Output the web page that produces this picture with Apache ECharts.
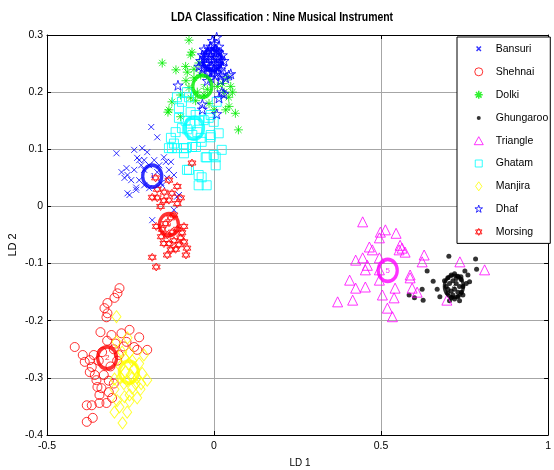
<!DOCTYPE html>
<html>
<head>
<meta charset="utf-8">
<script src="https://cdn.jsdelivr.net/npm/echarts@6/dist/echarts.min.js"></script>
<style>html,body{margin:0;padding:0;background:#fff}#c{width:554px;height:470px}</style>
</head>
<body>
<div id="c"></div>
<script>
const categories = ['Bansuri','Shehnai','Dolki','Ghungaroo','Triangle','Ghatam','Manjira','Dhaf','Morsing'];
const xTicks = [-0.5, 0, 0.5, 1];
const yTicks = [-0.4, -0.3, -0.2, -0.1, 0, 0.1, 0.2, 0.3];

const bansuri = [[-0.188,0.139],[-0.170,0.121],[-0.292,0.093],[-0.215,0.102],[-0.200,0.095],[-0.277,0.060],[-0.262,0.067],[-0.259,0.055],[-0.233,0.029],[-0.253,0.020],[-0.224,0.081],[-0.218,0.072],[-0.230,0.085],[-0.239,0.064],[-0.150,0.086],[-0.144,0.078],[-0.129,0.078],[-0.135,0.064],[-0.120,0.055],[-0.141,0.050],[-0.158,0.041],[-0.194,0.032],[-0.105,0.020],[-0.111,0.017],[-0.185,-0.024],[-0.120,-0.006],[-0.209,0.081],[-0.194,0.072],[-0.209,0.064],[-0.179,0.081],[-0.164,0.072],[-0.224,0.046],[-0.209,0.037],[-0.170,0.060],[-0.155,0.037],[-0.248,0.046],[-0.268,0.050],[-0.239,0.099],[-0.259,0.023],[-0.233,0.033]];
const shehnai = [[-0.283,-0.143],[-0.289,-0.152],[-0.298,-0.160],[-0.319,-0.169],[-0.328,-0.178],[-0.319,-0.187],[-0.322,-0.194],[-0.340,-0.220],[-0.417,-0.246],[-0.393,-0.260],[-0.387,-0.272],[-0.307,-0.225],[-0.277,-0.222],[-0.253,-0.216],[-0.224,-0.229],[-0.262,-0.237],[-0.239,-0.246],[-0.230,-0.251],[-0.200,-0.251],[-0.372,-0.269],[-0.366,-0.281],[-0.372,-0.290],[-0.357,-0.295],[-0.352,-0.304],[-0.349,-0.316],[-0.337,-0.318],[-0.343,-0.330],[-0.366,-0.348],[-0.322,-0.344],[-0.363,-0.370],[-0.381,-0.377],[-0.381,-0.348],[-0.343,-0.344],[-0.300,-0.250],[-0.290,-0.270],[-0.335,-0.255],[-0.310,-0.280],[-0.295,-0.240],[-0.345,-0.270],[-0.330,-0.295],[-0.315,-0.305],[-0.300,-0.310],[-0.285,-0.260],[-0.270,-0.245],[-0.360,-0.260],[-0.320,-0.235],[-0.315,-0.325],[-0.305,-0.335]];
const dolki = [[-0.075,0.291],[-0.066,0.270],[-0.070,0.265],[-0.155,0.251],[-0.114,0.239],[-0.080,0.235],[-0.045,0.251],[-0.084,0.220],[-0.075,0.208],[-0.126,0.183],[-0.135,0.169],[-0.100,0.157],[0.000,0.169],[0.035,0.169],[0.064,0.163],[0.073,0.134],[0.044,0.191],[0.030,0.200],[0.050,0.210],[0.040,0.225],[0.025,0.215],[-0.060,0.225],[-0.050,0.200],[-0.030,0.195],[-0.020,0.205],[-0.055,0.185],[-0.070,0.190],[-0.060,0.240],[-0.100,0.195],[0.010,0.210],[0.055,0.200],[-0.040,0.230],[-0.015,0.180],[0.045,0.175],[-0.085,0.245],[-0.138,0.165]];
const ghungaroo = [[0.703,-0.087],[0.783,-0.092],[0.638,-0.113],[0.786,-0.110],[0.656,-0.131],[0.584,-0.155],[0.623,-0.145],[0.626,-0.164],[0.668,-0.145],[0.676,-0.158],[0.751,-0.113],[0.739,-0.123],[0.765,-0.132],[0.600,-0.160],[0.700,-0.125],[0.710,-0.120],[0.720,-0.118],[0.730,-0.122],[0.740,-0.128],[0.745,-0.140],[0.740,-0.150],[0.730,-0.158],[0.720,-0.162],[0.710,-0.160],[0.700,-0.152],[0.695,-0.140],[0.705,-0.135],[0.715,-0.130],[0.725,-0.135],[0.735,-0.140],[0.720,-0.145],[0.710,-0.148],[0.730,-0.150],[0.715,-0.155],[0.690,-0.130],[0.725,-0.126],[0.700,-0.145],[0.745,-0.155],[0.735,-0.165],[0.705,-0.165],[0.755,-0.135],[0.760,-0.120]];
const triangle = [[0.445,-0.027],[0.498,-0.045],[0.513,-0.041],[0.495,-0.055],[0.545,-0.047],[0.465,-0.071],[0.474,-0.076],[0.557,-0.068],[0.563,-0.073],[0.572,-0.080],[0.554,-0.076],[0.424,-0.094],[0.445,-0.090],[0.495,-0.090],[0.459,-0.103],[0.453,-0.111],[0.495,-0.111],[0.629,-0.085],[0.623,-0.097],[0.736,-0.097],[0.810,-0.111],[0.587,-0.120],[0.587,-0.125],[0.406,-0.129],[0.424,-0.143],[0.453,-0.141],[0.495,-0.129],[0.542,-0.143],[0.593,-0.143],[0.608,-0.150],[0.370,-0.167],[0.415,-0.164],[0.504,-0.155],[0.539,-0.160],[0.519,-0.178],[0.534,-0.193],[0.697,-0.164]];
const ghatam = [[-0.111,0.191],[-0.105,0.155],[-0.129,0.120],[-0.126,0.102],[-0.090,0.102],[-0.090,0.093],[-0.075,0.064],[-0.037,0.051],[-0.046,0.037],[-0.022,0.037],[-0.025,0.086],[0.005,0.086],[0.005,0.072],[0.023,0.099],[0.014,0.128],[-0.010,0.121],[-0.037,0.113],[-0.054,0.104],[-0.016,0.155],[0.008,0.183],[-0.075,0.191],[-0.081,0.200],[-0.096,0.137],[-0.135,0.102],[-0.111,0.102],[-0.084,0.102],[-0.066,0.104],[-0.081,0.064],[-0.046,0.055],[-0.001,0.090],[-0.022,0.086],[-0.010,0.125],[-0.001,0.148],[-0.010,0.160],[-0.031,0.151],[-0.105,0.172],[-0.096,0.183],[-0.070,0.145],[-0.050,0.130],[-0.065,0.125],[-0.045,0.150],[-0.080,0.135],[-0.055,0.160],[-0.070,0.165],[-0.040,0.120],[-0.085,0.150],[-0.115,0.130],[-0.120,0.110]];
const manjira = [[-0.292,-0.193],[-0.292,-0.237],[-0.259,-0.230],[-0.253,-0.256],[-0.268,-0.265],[-0.245,-0.270],[-0.224,-0.275],[-0.215,-0.292],[-0.230,-0.300],[-0.200,-0.304],[-0.218,-0.310],[-0.245,-0.318],[-0.253,-0.330],[-0.230,-0.335],[-0.268,-0.333],[-0.298,-0.320],[-0.283,-0.351],[-0.274,-0.379],[-0.298,-0.360],[-0.253,-0.341],[-0.298,-0.302],[-0.280,-0.280],[-0.265,-0.290],[-0.250,-0.295],[-0.240,-0.285],[-0.260,-0.305],[-0.235,-0.310],[-0.270,-0.310],[-0.255,-0.275],[-0.280,-0.300],[-0.245,-0.300],[-0.275,-0.255],[-0.210,-0.260],[-0.220,-0.320],[-0.290,-0.340],[-0.260,-0.360]];
const dhaf = [[0.008,0.296],[-0.108,0.212],[0.044,0.230],[0.020,0.221],[0.029,0.197],[-0.035,0.170],[0.008,0.162],[-0.035,0.179],[0.050,0.232],[0.023,0.200],[0.035,0.225],[0.015,0.190],[-0.030,0.260],[-0.020,0.270],[-0.010,0.280],[0.000,0.285],[0.005,0.275],[-0.025,0.250],[-0.015,0.245],[-0.005,0.255],[0.010,0.260],[0.015,0.250],[-0.035,0.240],[-0.020,0.235],[0.000,0.240],[0.020,0.240],[0.025,0.265],[-0.010,0.265],[-0.040,0.255],[0.005,0.230],[-0.010,0.225],[0.015,0.270],[-0.005,0.290],[0.030,0.255],[-0.030,0.275],[0.010,0.245],[-0.020,0.220],[0.020,0.228],[-0.045,0.245],[0.000,0.260],[-0.015,0.260],[0.005,0.250],[-0.025,0.265],[-0.015,0.275],[0.005,0.265],[0.020,0.255],[-0.030,0.245],[-0.005,0.245],[0.010,0.235],[-0.015,0.235],[-0.035,0.265],[0.000,0.270],[0.015,0.280],[-0.020,0.250],[0.025,0.245],[-0.005,0.235],[0.010,0.272]];
const morsing = [[-0.185,0.016],[-0.170,0.015],[-0.149,0.025],[-0.135,0.046],[-0.126,0.023],[-0.135,0.011],[-0.066,0.076],[-0.185,-0.089],[-0.173,-0.106],[-0.084,-0.085],[-0.081,-0.073],[-0.129,-0.076],[-0.158,-0.053],[-0.173,-0.035],[-0.096,-0.046],[-0.090,-0.062],[-0.105,-0.067],[-0.120,-0.060],[-0.140,-0.050],[-0.110,-0.040],[-0.125,-0.045],[-0.150,-0.065],[-0.100,-0.055],[-0.135,-0.065],[-0.115,-0.075],[-0.130,-0.020],[-0.145,-0.030],[-0.120,-0.015],[-0.160,0.000],[-0.150,0.010],[-0.100,0.015],[-0.110,0.005],[-0.090,-0.035],[-0.155,-0.040],[-0.140,-0.085],[-0.110,0.035],[-0.170,0.030],[-0.175,0.050]];
const centroids = [[-0.185,0.053],[-0.320,-0.265],[-0.035,0.210],[0.718,-0.140],[0.520,-0.112],[-0.060,0.137],[-0.255,-0.290],[-0.005,0.257],[-0.135,-0.032]];
const centroidLabels = ['1','2','3','4','5','6','7','8','9'];

const FONT = '"Liberation Sans",Arial,sans-serif';
const colors = ['#0000ff','#ff0000','#00ee00','#000000','#ff00ff','#00ffff','#ffff00','#0000ff','#ff0000'];
const P = {
  x: 'path://M0,0L10,10M10,0L0,10',
  ast: 'path://M5,0L5,10M0,5L10,5M1.5,1.5L8.5,8.5M8.5,1.5L1.5,8.5',
  pent: 'path://M5,0L6.123,3.455L9.755,3.455L6.817,5.59L7.939,9.045L5,6.91L2.061,9.045L3.183,5.59L0.245,3.455L3.877,3.455Z',
  hex: 'path://M5,0L9.33,7.5L0.67,7.5ZM5,10L0.67,2.5L9.33,2.5Z',
  dot: 'path://M0,0M10,10M3,5a2,2 0 1,0 4,0a2,2 0 1,0 -4,0Z',
  xs: 'path://M0,0M10,10M2.8,2.8L7.2,7.2M7.2,2.8L2.8,7.2',
  circ: 'path://M0,0M10,10M1,5a4,4 0 1,0 8,0a4,4 0 1,0 -8,0Z',
  astL: 'path://M0,0M10,10M5,1L5,9M1,5L9,5M2.2,2.2L7.8,7.8M7.8,2.2L2.2,7.8',
  tri: 'path://M0,0M10,10M5,1L9.5,9L0.5,9Z',
  sq: 'path://M0,0M10,10M1.5,1.5L8.5,1.5L8.5,8.5L1.5,8.5Z',
  dia: 'path://M0,0M10,10M5,0.5L8.2,5L5,9.5L1.8,5Z',
  pentL: 'path://M0,0M10,10M5,1L5.9,3.76L8.8,3.76L6.45,5.47L7.35,8.24L5,6.53L2.65,8.24L3.55,5.47L1.2,3.76L4.1,3.76Z',
  hexL: 'path://M0,0M10,10M5,1.5L8.2,7L1.8,7ZM5,8.5L1.8,3L8.2,3Z'
};
const dataSets = [bansuri, shehnai, dolki, ghungaroo, triangle, ghatam, manjira, dhaf, morsing];
const symbols = [P.x, 'circle', P.ast, 'circle', 'triangle', 'rect', 'diamond', P.pent, P.hex];
const sizes = [6, 9, 9, 5, 10, 9, [9,12], 10, 8];
const legendIcons = [P.xs, P.circ, P.astL, P.dot, P.tri, P.sq, P.dia, P.pentL, P.hexL];

const series = categories.map((name, i) => {
  const filled = (i === 3);
  return {
    name, type: 'scatter', data: dataSets[i], symbol: symbols[i], symbolSize: sizes[i],
    xAxisIndex: 0, yAxisIndex: 0,
    itemStyle: filled ? { color: colors[i] } : { color: 'transparent', borderColor: colors[i], borderWidth: 1 },
    emphasis: { disabled: true }, z: 2
  };
});
series.push({
  name: 'centroid', type: 'scatter', symbol: 'circle', symbolSize: [19, 22], z: 5,
  data: centroids.map((c, i) => ({
    value: c,
    itemStyle: { color: 'transparent', borderColor: colors[i], borderWidth: 3.5 },
    label: { show: true, formatter: centroidLabels[i], color: colors[i], fontSize: 8, fontFamily: FONT }
  })),
  label: { show: true, position: 'inside' },
  emphasis: { disabled: true }
});

const legendData = categories.map((name, i) => ({
  name, icon: legendIcons[i],
  itemStyle: i === 3 ? { color: colors[i], borderWidth: 0 }
    : { color: 'transparent', borderColor: colors[i], borderWidth: (i === 0 || i === 2) ? 1.5 : 1 }
}));

const chart = echarts.init(document.getElementById('c'), null, { renderer: 'canvas' });
const axisBase = {
  axisLine: { show: true, onZero: false, lineStyle: { color: '#000', width: 1 } },
  axisTick: { show: true, inside: true, length: 4, lineStyle: { color: '#000' } }
};
chart.setOption({
  animation: false,
  backgroundColor: '#fff',
  grid: { left: 47, right: 2, top: 35, bottom: 35, containLabel: false },
  xAxis: [Object.assign({
    type: 'value', min: xTicks[0], max: xTicks[xTicks.length - 1], interval: 0.5,
    axisLabel: { color: '#000', fontSize: 10.5, fontFamily: FONT, margin: 6, formatter: v => String(+v.toFixed(2)) },
    splitLine: { show: true, lineStyle: { color: '#a6a6a6', width: 1 } }
  }, axisBase), Object.assign({
    type: 'value', position: 'top', min: xTicks[0], max: xTicks[xTicks.length - 1], interval: 0.5,
    axisLabel: { show: false }, splitLine: { show: false }
  }, axisBase)],
  yAxis: [Object.assign({
    type: 'value', min: yTicks[0], max: yTicks[yTicks.length - 1], interval: 0.1,
    axisLabel: { color: '#000', fontSize: 10.5, fontFamily: FONT, margin: 4, formatter: v => String(+v.toFixed(2)) },
    splitLine: { show: true, lineStyle: { color: '#a6a6a6', width: 1 } }
  }, axisBase), Object.assign({
    type: 'value', position: 'right', min: yTicks[0], max: yTicks[yTicks.length - 1], interval: 0.1,
    axisLabel: { show: false }, splitLine: { show: false }
  }, axisBase)],
  legend: {
    orient: 'vertical', left: 457, top: 37,
    padding: [6, 2, 6, 16], itemGap: 11.8, itemWidth: 24, itemHeight: 10,
    backgroundColor: '#fff', borderColor: '#000', borderWidth: 1,
    textStyle: { color: '#000', fontSize: 10.5, fontFamily: FONT },
    data: legendData, selectedMode: false
  },
  graphic: [
    { type: 'text', x: 282, y: 12, scaleX: 0.87, style: { text: 'LDA Classification : Nine Musical Instrument', fill: '#000', font: 'bold 12px ' + FONT, textAlign: 'center' } },
    { type: 'text', x: 300, y: 457, scaleX: 0.9, style: { text: 'LD 1', fill: '#000', font: '11px ' + FONT, textAlign: 'center' } },
    { type: 'text', x: 13, y: 245, rotation: Math.PI / 2, style: { text: 'LD 2', fill: '#000', font: '11px ' + FONT, textAlign: 'center', textVerticalAlign: 'middle' } }
  ],
  series
});
</script>
</body>
</html>
